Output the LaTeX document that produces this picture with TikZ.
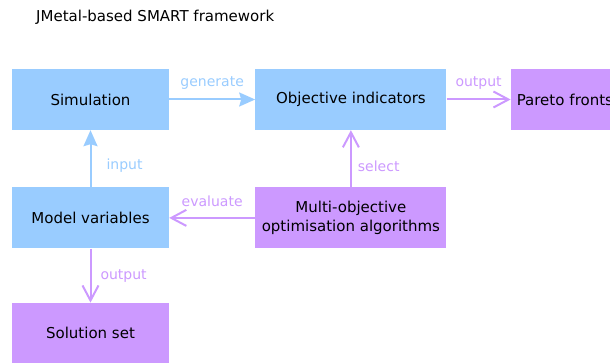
\documentclass[tikz,border=0pt]{standalone}
\usepackage{fontspec}
\setmainfont{DejaVu Sans}
\usetikzlibrary{positioning,arrows.meta}
\definecolor{simblue}{HTML}{99CCFF}
\definecolor{optpurple}{HTML}{CC99FF}

\begin{document}
\begin{tikzpicture}[x=1pt, y=-1pt, bluebox/.style={rectangle, fill=simblue, minimum width=157pt, minimum height=61pt, inner sep=0pt, font=\fontsize{15}{19}\selectfont}, purplebox/.style={bluebox, fill=optpurple}, widebox/.style={minimum width=191pt}, bluearrow/.style={draw=simblue, line width=2pt, -{Stealth[length=16pt, width=14pt, inset=2pt]}}, purplearrow/.style={draw=optpurple, line width=2pt, -{Straight Barb[length=15pt, width=16pt]}}, edgetext/.style={inner sep=0pt, font=\fontsize{14}{17}\selectfont}, bluetext/.style={edgetext, text=simblue}, purpletext/.style={edgetext, text=optpurple}, node distance = 57pt and 86pt]
      \clip (0,0) rectangle (610,363);

      \node [anchor=west, inner sep=0pt, font=\fontsize{15}{19}\selectfont] (title) at (36,17) {JMetal-based SMART framework};

      \node [bluebox] (sim) at (90.5,99.5) {Simulation};

      \node [bluebox, widebox, right = of sim] (obj) {Objective indicators};

      \node [purplebox, text width=145pt, inner xsep=6pt, align=left, right = 64pt of obj] (pareto) {Pareto fronts};

      \node [bluebox, below = of sim] (model) {Model variables};

      \node [purplebox, widebox, align=center, below = of obj] (moo) {Multi-objective\\optimisation algorithms};

      \node [purplebox, below = 54pt of model] (sol) {Solution set};

      \path (sim) edge[bluearrow] node[bluetext, midway, yshift=16pt] {generate} (obj);

      \path (obj) edge[purplearrow] node[purpletext, midway, yshift=16pt] {output} (pareto);

      \path (model) edge[bluearrow] node[bluetext, pos=0.37, anchor=west, xshift=15pt] {input} (sim);

      \path (moo) edge[purplearrow] node[purpletext, pos=0.37, anchor=west, xshift=6pt] {select} (obj);

      \path (moo) edge[purplearrow] node[purpletext, midway, yshift=17pt] {evaluate} (model);

      \path (model) edge[purplearrow] node[purpletext, midway, anchor=west, xshift=9pt] {output} (sol);
    \end{tikzpicture}
\end{document}
